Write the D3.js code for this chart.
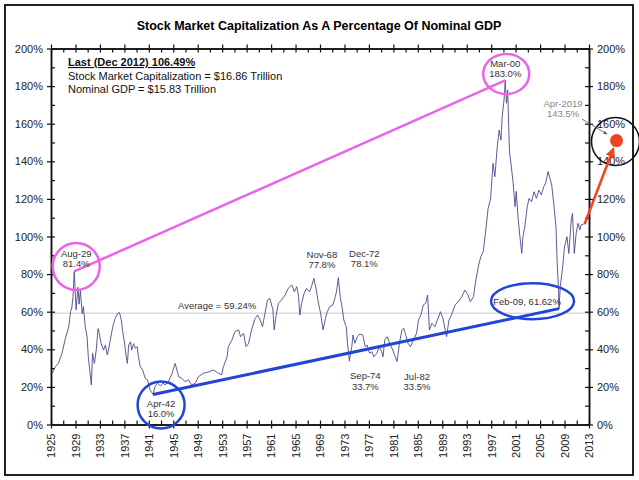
<!DOCTYPE html>
<html>
<head>
<meta charset="utf-8">
<script src="https://cdn.jsdelivr.net/npm/d3@7/dist/d3.min.js"></script>
<style>
body { margin: 0; background: #fff; }
svg { font-family: Arial, "Liberation Sans", sans-serif; }
</style>
</head>
<body>
<svg width="639" height="480"></svg>
<script>
/* market cap as % of nominal GDP (decimal year, %) */
var years = [
  1925.2, 1925.7, 1926.2, 1926.8, 1927.3, 1927.9, 1928.2, 1928.4, 1928.6, 1928.8,
  1929.0, 1929.1, 1929.4, 1929.6, 1929.8, 1930.1, 1930.3, 1930.6, 1930.9, 1931.1,
  1931.4, 1931.6, 1931.8, 1932.1, 1932.4, 1932.7, 1932.9, 1933.2, 1933.6, 1933.9,
  1934.2, 1934.4, 1934.7, 1935.1, 1935.5, 1935.9, 1936.2, 1936.5, 1936.7, 1937.0,
  1937.3, 1937.5, 1937.7, 1938.0, 1938.2, 1938.5, 1938.8, 1939.1, 1939.3, 1939.6,
  1940.0, 1940.4, 1940.8, 1941.2, 1941.7, 1942.0, 1942.4, 1942.9, 1943.3, 1943.7,
  1944.2, 1944.8, 1945.3, 1945.6, 1945.9, 1946.4, 1946.9, 1947.5, 1948.0, 1948.6,
  1949.1, 1949.9, 1950.8, 1951.6, 1952.4, 1952.9, 1953.2, 1953.8, 1954.0, 1954.6,
  1955.1, 1955.7, 1956.0, 1956.5, 1956.9, 1957.3, 1957.8, 1958.4, 1958.8, 1959.2,
  1959.6, 1960.0, 1960.4, 1960.8, 1961.3, 1961.5, 1961.8, 1962.2, 1962.7, 1963.3,
  1963.8, 1964.4, 1964.8, 1965.2, 1965.5, 1965.7, 1966.0, 1966.4, 1966.8, 1967.3,
  1967.6, 1968.0, 1968.4, 1968.7, 1969.1, 1969.5, 1969.9, 1970.2, 1970.6, 1971.1,
  1971.5, 1971.7, 1972.0, 1972.3, 1972.6, 1972.9, 1973.3, 1973.5, 1973.8, 1974.2,
  1974.4, 1974.7, 1975.1, 1975.5, 1976.0, 1976.4, 1976.7, 1977.1, 1977.5, 1977.8,
  1978.3, 1978.7, 1979.1, 1979.3, 1979.6, 1980.0, 1980.4, 1980.9, 1981.3, 1981.6,
  1982.0, 1982.4, 1982.7, 1983.1, 1983.4, 1983.8, 1984.3, 1984.8, 1985.1, 1985.5,
  1985.9, 1986.3, 1986.6, 1986.9, 1987.3, 1987.8, 1988.3, 1988.7, 1989.1, 1989.7,
  1990.1, 1990.5, 1991.1, 1991.6, 1992.2, 1992.7, 1993.2, 1993.6, 1994.1, 1994.5,
  1994.9, 1995.3, 1995.7, 1996.0, 1996.5, 1996.9, 1997.3, 1997.6, 1998.0, 1998.3,
  1998.6, 1998.8, 1999.1, 1999.3, 1999.5, 1999.7, 1999.9, 2000.0, 2000.3, 2000.6,
  2000.9, 2001.1, 2001.4, 2001.7, 2002.0, 2002.2, 2002.5, 2002.9, 2003.2, 2003.6,
  2004.0, 2004.4, 2004.8, 2005.2, 2005.6, 2005.9, 2006.3, 2006.6, 2006.9, 2007.2,
  2007.6, 2007.8, 2008.0, 2008.1, 2008.3, 2008.7, 2009.0, 2009.4, 2009.7, 2010.1,
  2010.3, 2010.6, 2010.9, 2011.2, 2011.5, 2011.7, 2012.1
];
var values = [
  27.2, 30.7, 32.5, 37.9, 45, 52, 60, 62, 68, 81.4,
  68, 61, 73, 64, 71.5, 59, 62.7, 52, 46.7, 36,
  27.2, 21, 37.9, 32.5, 39.6, 51, 48.5, 43, 39.6, 42.3,
  37, 39.6, 45, 52, 56.5, 59, 59.5, 55.6, 50, 44,
  36, 32.5, 42.3, 44, 39.6, 43, 40.5, 41.4, 36, 30.7,
  29, 24.6, 23.7, 18.4, 16.0, 20, 22, 20.5, 22, 21,
  22.8, 27.2, 32.5, 29, 25.4, 24.6, 22.8, 23.7, 21, 22,
  25.4, 27.2, 28, 29, 27.2, 26.5, 30.7, 36, 41.4, 45,
  49.4, 50.3, 46.7, 48.5, 41.4, 43, 50.3, 56.5, 58.2, 55.6,
  52, 59.1, 66.2, 67, 61, 50.3, 57.3, 64.5, 66.2, 68.9,
  72.4, 74.2, 70.6, 73.3, 68, 58.2, 64.5, 69.8, 72.4, 70.6,
  73.3, 77.8, 71.5, 65.3, 59.1, 50.3, 56.5, 60, 62.7, 63.6,
  68, 70.6, 78.1, 68, 62.7, 55.6, 52, 43.2, 33.7, 41.4,
  47.6, 43.2, 46.7, 48.1, 47.6, 41.4, 42.3, 37.9, 38.7, 36,
  37.9, 41.4, 38.7, 36, 45, 46.7, 43.2, 39.6, 36, 33.5,
  43.2, 50.3, 51.2, 46.7, 43.2, 41.4, 45, 48.5, 55.6, 58.2,
  63.6, 64.5, 68.9, 50.3, 53.8, 52, 56.5, 60, 56.5, 46.7,
  55.6, 58.2, 63.6, 65.3, 68, 71.5, 68.9, 65.3, 68, 76.9,
  84, 89.3, 91.9, 99.9, 115, 120, 138.9, 131.8, 147.8, 156.6,
  151.3, 163.7, 172.6, 183.0, 170.9, 177.9, 154.9, 145, 137.1, 128.3,
  115.9, 124, 110, 99.9, 91, 99.9, 105.2, 115.9, 120.3, 118.5,
  123.8, 120.3, 124.7, 122.1, 126.5, 128.3, 134.5, 131, 127.4, 118.5,
  105.2, 85.7, 73.3, 61.62, 73.3, 83.9, 94.6, 99.9, 91, 108.8,
  112.3, 91, 101.7, 107, 103.5, 106.1, 106.49
];

var yTickValues = d3.range(0, 201, 20);
var yMinorValues = d3.range(10, 200, 20);
var xTickValues = d3.range(1925, 2014, 4);
var xMinorValues = d3.range(1927, 2013, 4);
var average = 59.24;

/* labelled extremes: year, value, label lines */
var calloutYears = [1928.8, 1999.3, 1941.7, 2008.1, 1968.0, 1972.0, 1973.8, 1981.6];
var calloutValues = [81.4, 183.0, 16.0, 61.62, 77.8, 78.1, 33.7, 33.5];
var calloutLabels = [
  ["Aug-29", "81.4%"], ["Mar-00", "183.0%"], ["Apr-42", "16.0%"], ["Feb-09, 61.62%"],
  ["Nov-68", "77.8%"], ["Dec-72", "78.1%"], ["Sep-74", "33.7%"], ["Jul-82", "33.5%"]
];

/* the added 2019 point, as drawn */
var forecastYear = 2017.5;
var forecastValue = 151;
var forecastLabel = ["Apr-2019", "143.5%"];

var infoLines = ["Last (Dec 2012) 106.49%", "Stock Market Capitalization = $16.86 Trillion", "Nominal GDP = $15.83 Trillion"];
var title = "Stock Market Capitalization As A Percentage Of Nominal GDP";

var svg = d3.select("svg");
var margin = {top: 48.5, right: 50, bottom: 55.5, left: 51};
var width = +svg.attr("width") - margin.left - margin.right;
var height = +svg.attr("height") - margin.top - margin.bottom;

/* outer frame */
svg.append("rect")
    .attr("x", 5).attr("y", 5).attr("width", 628).attr("height", 470)
    .attr("fill", "#fff").attr("stroke", "#222").attr("stroke-width", 2);

svg.append("text")
    .attr("x", 319).attr("y", 30)
    .attr("text-anchor", "middle")
    .attr("font-size", 12.5).attr("font-weight", "bold")
    .text(title);

var g = svg.append("g").attr("transform", "translate(" + margin.left + "," + margin.top + ")");

var x = d3.scaleLinear().domain([1925, 2013]).range([0, width]);
var y = d3.scaleLinear().domain([0, 200]).range([height, 0]);

/* average line */
g.append("line")
    .attr("x1", 0).attr("x2", width)
    .attr("y1", y(average)).attr("y2", y(average))
    .attr("stroke", "#c8c8c8").attr("stroke-width", 1);
g.append("text")
    .attr("x", 127).attr("y", y(average) - 4)
    .attr("font-size", 9.5).attr("fill", "#333")
    .text("Average = " + average + "%");

/* axes: outer ticks with labels, inner ticks plain */
function styleAxis(sel) {
  sel.select(".domain").attr("stroke", "#111").attr("stroke-width", 1.5);
  sel.selectAll(".tick line").attr("stroke", "#111").attr("stroke-width", 1.2);
  sel.selectAll("text").attr("fill", "#222").attr("font-size", 11).attr("font-family", "Arial, 'Liberation Sans', sans-serif");
}
var pct = function(d) { return d + "%"; };

g.append("g").attr("transform", "translate(0," + height + ")")
    .call(d3.axisBottom(x).tickValues(xTickValues).tickFormat(d3.format("d")).tickSize(4).tickSizeOuter(0))
    .call(styleAxis)
    .selectAll("text")
      .attr("transform", "rotate(-90)")
      .attr("text-anchor", "end")
      .attr("x", -9).attr("y", 0).attr("dy", "0.35em");
g.append("g").attr("transform", "translate(0," + height + ")")
    .call(d3.axisBottom(x).tickValues(xTickValues.concat(xMinorValues)).tickFormat("").tickSize(-4).tickSizeOuter(0))
    .call(styleAxis);
g.append("g")
    .call(d3.axisTop(x).tickValues(xTickValues).tickFormat("").tickSize(4).tickSizeOuter(0))
    .call(styleAxis);
g.append("g")
    .call(d3.axisTop(x).tickValues(xTickValues.concat(xMinorValues)).tickFormat("").tickSize(-4).tickSizeOuter(0))
    .call(styleAxis);

g.append("g")
    .call(d3.axisLeft(y).tickValues(yTickValues).tickFormat(pct).tickSize(4).tickPadding(4).tickSizeOuter(0))
    .call(styleAxis);
g.append("g")
    .call(d3.axisLeft(y).tickValues(yTickValues.concat(yMinorValues)).tickFormat("").tickSize(-4).tickSizeOuter(0))
    .call(styleAxis);
g.append("g").attr("transform", "translate(" + width + ",0)")
    .call(d3.axisRight(y).tickValues(yTickValues).tickFormat(pct).tickSize(4).tickPadding(4).tickSizeOuter(0))
    .call(styleAxis);
g.append("g").attr("transform", "translate(" + width + ",0)")
    .call(d3.axisRight(y).tickValues(yTickValues.concat(yMinorValues)).tickFormat("").tickSize(-4).tickSizeOuter(0))
    .call(styleAxis);

/* the series */
var series = years.map(function(d, i) { return [d, values[i]]; });
g.append("path")
    .datum(series)
    .attr("fill", "none")
    .attr("stroke", "#4a4a8c")
    .attr("stroke-width", 0.9)
    .attr("stroke-linejoin", "round")
    .attr("d", d3.line().x(function(d) { return x(d[0]); }).y(function(d) { return y(d[1]); }));

/* info block */
var info = g.append("g").attr("font-size", 11).attr("fill", "#111");
infoLines.forEach(function(t, i) {
  info.append("text")
      .attr("x", 17).attr("y", 17.5 + i * 13.5)
      .attr("font-weight", i == 0 ? "bold" : "normal")
      .attr("text-decoration", i == 0 ? "underline" : "none")
      .text(t);
});

var pts = calloutYears.map(function(d, i) { return {x: x(d), y: y(calloutValues[i]), lines: calloutLabels[i]}; });

/* magenta: 1929 peak to 2000 peak */
var magenta = "#e864e8";
g.append("line")
    .attr("x1", pts[0].x).attr("y1", pts[0].y).attr("x2", pts[1].x).attr("y2", pts[1].y)
    .attr("stroke", magenta).attr("stroke-width", 2.5);
g.append("circle").attr("cx", pts[0].x + 2).attr("cy", pts[0].y - 5).attr("r", 23.5)
    .attr("fill", "none").attr("stroke", magenta).attr("stroke-width", 2.5);
g.append("ellipse").attr("cx", pts[1].x + 1).attr("cy", pts[1].y - 6.5).attr("rx", 23).attr("ry", 20)
    .attr("fill", "none").attr("stroke", magenta).attr("stroke-width", 2.5);

/* blue: 1942 low to 2009 low */
var blue = "#2145d6";
g.append("line")
    .attr("x1", pts[2].x).attr("y1", pts[2].y).attr("x2", pts[3].x).attr("y2", pts[3].y)
    .attr("stroke", blue).attr("stroke-width", 3);
g.append("circle").attr("cx", pts[2].x + 8).attr("cy", pts[2].y + 10.5).attr("r", 23.5)
    .attr("fill", "none").attr("stroke", blue).attr("stroke-width", 2.5);
g.append("ellipse").attr("cx", pts[3].x - 26.5).attr("cy", pts[3].y - 7.5).attr("rx", 41.5).attr("ry", 18)
    .attr("fill", "none").attr("stroke", blue).attr("stroke-width", 2.5);

/* callout text, offsets from each point */
var offsets = [[2, -18], [0, -17], [8, 9], [-32, -7], [8, -24], [26, -24], [16, 15], [20, 15]];
pts.forEach(function(p, i) {
  p.lines.forEach(function(t, j) {
    g.append("text")
        .attr("x", p.x + offsets[i][0])
        .attr("y", p.y + offsets[i][1] + j * 10.5)
        .attr("dy", "0.35em")
        .attr("text-anchor", "middle")
        .attr("font-size", 9.5).attr("fill", "#333")
        .text(t);
  });
});

/* 2019 marker */
var last = series[series.length - 1];
var fx = x(forecastYear), fy = y(forecastValue);
var red = "#ee4422";
svg.append("defs").append("marker")
    .attr("id", "head").attr("viewBox", "0 0 10 10")
    .attr("refX", 8).attr("refY", 5)
    .attr("markerWidth", 4).attr("markerHeight", 4)
    .attr("orient", "auto")
  .append("path").attr("d", "M0,0L10,5L0,10Z").attr("fill", red);
svg.select("defs").append("marker")
    .attr("id", "thin").attr("viewBox", "0 0 10 10")
    .attr("refX", 9).attr("refY", 5)
    .attr("markerWidth", 5).attr("markerHeight", 5)
    .attr("orient", "auto")
  .append("path").attr("d", "M0,1L10,5L0,9Z").attr("fill", "#555");

g.append("circle").attr("cx", fx - 1).attr("cy", fy + 1).attr("r", 24)
    .attr("fill", "none").attr("stroke", "#111").attr("stroke-width", 1.5);
g.append("circle").attr("cx", fx).attr("cy", fy).attr("r", 6.5).attr("fill", red);
var ang = Math.atan2(fy - y(last[1]), fx - x(last[0]));
g.append("line")
    .attr("x1", x(last[0]) + 1).attr("y1", y(last[1]))
    .attr("x2", fx - 9 * Math.cos(ang)).attr("y2", fy - 9 * Math.sin(ang))
    .attr("stroke", red).attr("stroke-width", 2.5)
    .attr("marker-end", "url(#head)");
g.append("line")
    .attr("x1", fx - 34.5).attr("y1", fy - 21.5)
    .attr("x2", fx - 9.5).attr("y2", fy - 6.5)
    .attr("stroke", "#555").attr("stroke-width", 0.8)
    .attr("marker-end", "url(#thin)");
forecastLabel.forEach(function(t, j) {
  g.append("text")
      .attr("x", fx - 53.5).attr("y", fy - 36.5 + j * 10)
      .attr("dy", "0.35em")
      .attr("text-anchor", "middle")
      .attr("font-size", 9.5).attr("fill", "#888")
      .text(t);
});
</script>
</body>
</html>
